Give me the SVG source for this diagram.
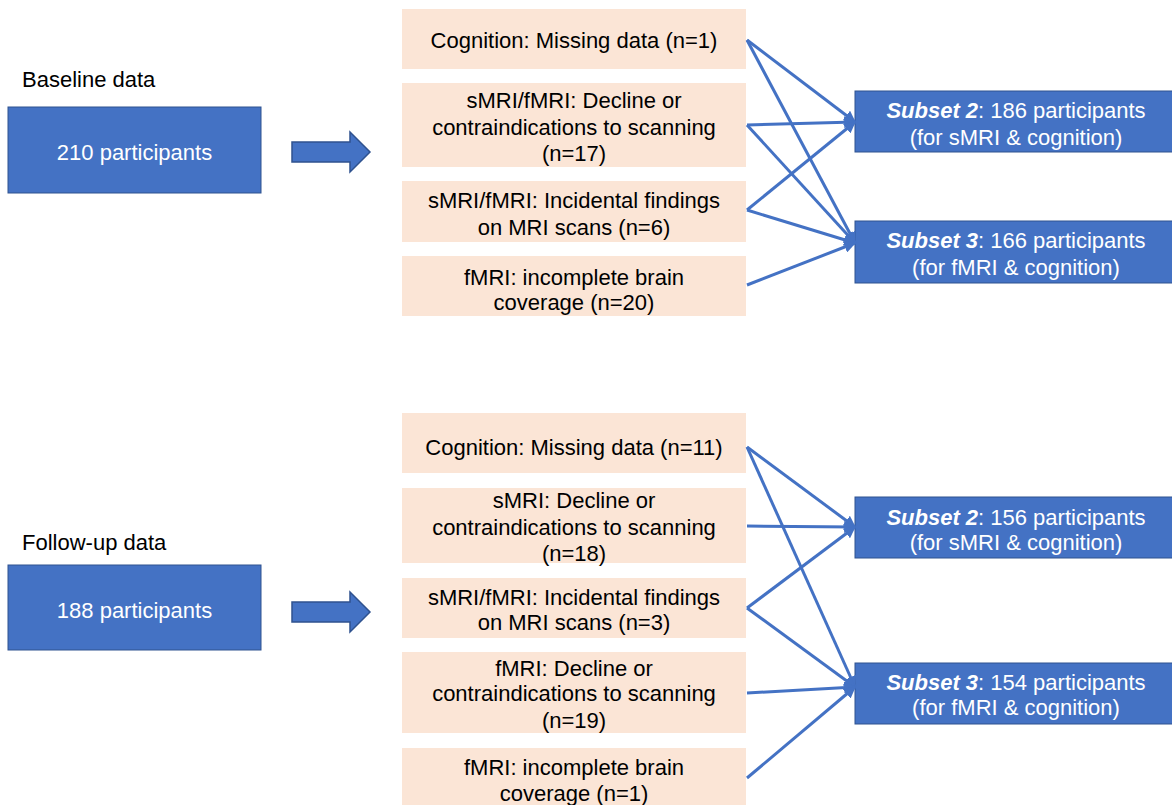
<svg xmlns="http://www.w3.org/2000/svg" width="1172" height="805" viewBox="0 0 1172 805">
<style>
text{font-family:"Liberation Sans",Arial,sans-serif;font-size:22px}
.lbl{fill:#000}
.blue{fill:#4472C4;stroke:#2F528F;stroke-width:1}
.pink{fill:#FBE5D6}
.pt{fill:#000;text-anchor:middle}
.wt{fill:#fff;text-anchor:middle}
.bi{font-weight:bold;font-style:italic}
.conn{stroke:#4472C4;stroke-width:3;fill:none;marker-end:url(#ah)}
.big{fill:#4472C4;stroke:#2F528F;stroke-width:1.5}
</style>
<defs>
<marker id="ah" viewBox="0 0 10 10" refX="9" refY="5" markerWidth="4" markerHeight="4" orient="auto" markerUnits="strokeWidth">
<path d="M0,0 L10,5 L0,10 z" fill="#4472C4"/>
</marker>
</defs>
<rect width="1172" height="805" fill="#fff"/>

<g id="baseline-label"><text class="lbl" x="22" y="87">Baseline data</text></g>
<g id="n210"><rect class="blue" x="8" y="107" width="253" height="86"/><text class="wt" x="134.5" y="160">210 participants</text></g>
<g id="arrow1"><path class="big" d="M292,142 L350,142 L350,132 L370,152 L350,172 L350,162 L292,162 Z"/></g>

<g id="b1"><rect class="pink" x="402" y="9" width="344" height="60"/><text class="pt" x="574" y="48">Cognition: Missing data (n=1)</text></g>
<g id="b2"><rect class="pink" x="402" y="83" width="344" height="84"/><text class="pt" x="574" y="108">sMRI/fMRI: Decline or</text><text class="pt" x="574" y="135">contraindications to scanning</text><text class="pt" x="574" y="161">(n=17)</text></g>
<g id="b3"><rect class="pink" x="402" y="181" width="344" height="61"/><text class="pt" x="574" y="208">sMRI/fMRI: Incidental findings</text><text class="pt" x="574" y="235">on MRI scans (n=6)</text></g>
<g id="b4"><rect class="pink" x="402" y="256" width="344" height="60"/><text class="pt" x="574" y="285">fMRI: incomplete brain</text><text class="pt" x="574" y="310">coverage (n=20)</text></g>

<g id="s2a"><rect class="blue" x="855" y="91" width="330" height="61"/><text class="wt" x="1016" y="118"><tspan class="bi">Subset 2</tspan>: 186 participants</text><text class="wt" x="1016" y="145">(for sMRI &amp; cognition)</text></g>
<g id="s3a"><rect class="blue" x="855" y="221" width="330" height="62"/><text class="wt" x="1016" y="248"><tspan class="bi">Subset 3</tspan>: 166 participants</text><text class="wt" x="1016" y="275">(for fMRI &amp; cognition)</text></g>

<g id="followup-label"><text class="lbl" x="22" y="550">Follow-up data</text></g>
<g id="n188"><rect class="blue" x="8" y="565" width="253" height="85"/><text class="wt" x="134.5" y="618">188 participants</text></g>
<g id="arrow2"><path class="big" d="M292,602 L350,602 L350,592 L370,612 L350,632 L350,622 L292,622 Z"/></g>

<g id="c1"><rect class="pink" x="402" y="413" width="344" height="60"/><text class="pt" x="574" y="455">Cognition: Missing data (n=11)</text></g>
<g id="c2"><rect class="pink" x="402" y="488" width="344" height="75"/><text class="pt" x="574" y="508">sMRI: Decline or</text><text class="pt" x="574" y="535">contraindications to scanning</text><text class="pt" x="574" y="561">(n=18)</text></g>
<g id="c3"><rect class="pink" x="402" y="578" width="344" height="60"/><text class="pt" x="574" y="605">sMRI/fMRI: Incidental findings</text><text class="pt" x="574" y="630">on MRI scans (n=3)</text></g>
<g id="c4"><rect class="pink" x="402" y="652" width="344" height="81"/><text class="pt" x="574" y="676">fMRI: Decline or</text><text class="pt" x="574" y="701">contraindications to scanning</text><text class="pt" x="574" y="728">(n=19)</text></g>
<g id="c5"><rect class="pink" x="402" y="748" width="344" height="60"/><text class="pt" x="574" y="775">fMRI: incomplete brain</text><text class="pt" x="574" y="801">coverage (n=1)</text></g>

<g id="s2b"><rect class="blue" x="855" y="497" width="330" height="61"/><text class="wt" x="1016" y="525"><tspan class="bi">Subset 2</tspan>: 156 participants</text><text class="wt" x="1016" y="550">(for sMRI &amp; cognition)</text></g>
<g id="s3b"><rect class="blue" x="855" y="663" width="330" height="61"/><text class="wt" x="1016" y="690"><tspan class="bi">Subset 3</tspan>: 154 participants</text><text class="wt" x="1016" y="715">(for fMRI &amp; cognition)</text></g>

<g id="connectors">
<path class="conn" d="M747,40 L855,122"/>
<path class="conn" d="M747,40 L855,243"/>
<path class="conn" d="M747,125 L855,122"/>
<path class="conn" d="M747,125 L855,243"/>
<path class="conn" d="M747,210 L855,122"/>
<path class="conn" d="M747,210 L855,243"/>
<path class="conn" d="M747,285 L855,243"/>
<path class="conn" d="M747,447 L855,527"/>
<path class="conn" d="M747,447 L855,687"/>
<path class="conn" d="M747,526 L855,527"/>
<path class="conn" d="M747,608 L855,527"/>
<path class="conn" d="M747,608 L855,687"/>
<path class="conn" d="M747,693 L855,687"/>
<path class="conn" d="M747,778 L855,687"/>
</g>
</svg>
